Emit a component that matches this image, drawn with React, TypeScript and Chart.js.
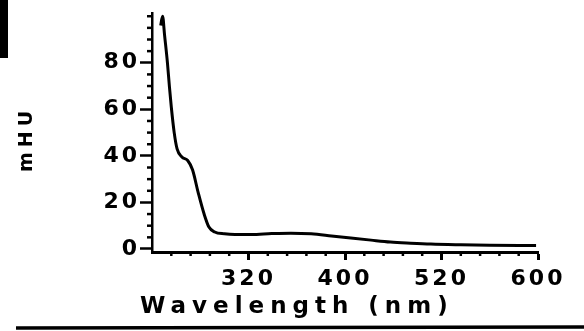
import React, { useEffect, useRef } from 'react';
import { Chart, registerables } from 'chart.js';

Chart.register(...registerables);

// Wavelength (nm) of each sampled point on the trace
const wavelengths = [209, 211, 213, 216, 218, 220, 223, 226, 231, 237, 242, 248, 254, 259, 265, 275, 286, 303, 324, 344, 365, 386, 406, 427, 447, 468, 489, 520, 550, 581, 598];
// Absorbance (mHU) at each wavelength
const absorbance = [96, 100, 92, 80, 70, 61, 50, 43, 39.5, 38, 34, 24, 15, 9.4, 7.3, 6.5, 6.2, 6.2, 6.6, 6.8, 6.5, 5.6, 4.7, 3.8, 3.0, 2.5, 2.1, 1.8, 1.6, 1.5, 1.5];

const xTickValues = [300, 400, 500, 600];
const xTickLabels = ['320', '400', '520', '600'];
const yTickValues = [0, 20, 40, 60, 80];
const yTickLabels = ['0', '20', '40', '60', '80'];
const xAxisTitle = 'Wavelength (nm)';
const yAxisTitle = 'mHU';

const FONT = 'DejaVu Sans';

const decorPlugin = {
  id: 'decor',
  beforeDraw(chart: any) {
    const ctx = chart.ctx;
    ctx.save();
    ctx.fillStyle = '#ffffff';
    ctx.fillRect(0, 0, chart.width, chart.height);
    ctx.restore();
    ctx.letterSpacing = '3px';
  },
  afterDraw(chart: any) {
    const ctx = chart.ctx;
    const xs = chart.scales.x;
    const ys = chart.scales.y;
    ctx.save();
    ctx.strokeStyle = '#000';
    ctx.lineWidth = 2.5;
    for (let v = 5; v <= 100; v += 5) {
      if (yTickValues.includes(v)) continue;
      const py = ys.getPixelForValue(v);
      ctx.beginPath();
      ctx.moveTo(xs.left - 5, py);
      ctx.lineTo(xs.left, py);
      ctx.stroke();
    }
    for (let v = 220; v < 600; v += 20) {
      if (xTickValues.includes(v)) continue;
      const px = xs.getPixelForValue(v);
      ctx.beginPath();
      ctx.moveTo(px, ys.bottom);
      ctx.lineTo(px, ys.bottom + 4);
      ctx.stroke();
    }

    // axis titles
    ctx.fillStyle = '#000';
    ctx.textBaseline = 'middle';
    ctx.textAlign = 'left';
    ctx.letterSpacing = '6px';
    ctx.font = `bold 23px "${FONT}"`;
    ctx.fillText(xAxisTitle, xs.left - 12, 307);

    ctx.save();
    ctx.translate(27, 141);
    ctx.rotate(-Math.PI / 2);
    ctx.textAlign = 'center';
    ctx.letterSpacing = '5px';
    ctx.font = `bold 19px "${FONT}"`;
    ctx.fillText(yAxisTitle, 2, 0);
    ctx.restore();

    // bottom rule of the scanned page
    ctx.lineWidth = 3.5;
    ctx.beginPath();
    ctx.moveTo(16, 328);
    ctx.lineTo(584, 327);
    ctx.stroke();
    // dark scan edge on the left
    ctx.fillStyle = '#000';
    ctx.fillRect(0, 0, 8, 58);
    ctx.restore();
  },
};

export default function App() {
  const ref = useRef<HTMLCanvasElement | null>(null);

  useEffect(() => {
    if (!ref.current) return;
    const chart = new Chart(ref.current, {
      type: 'line',
      data: {
        datasets: [
          {
            data: wavelengths.map((w, i) => ({ x: w, y: absorbance[i] })),
            borderColor: '#000',
            borderWidth: 3,
            pointRadius: 0,
            cubicInterpolationMode: 'monotone',
            fill: false,
          },
        ],
      },
      options: {
        animation: false,
        responsive: false,
        devicePixelRatio: 1,
        layout: { padding: { top: 12, right: 46, bottom: 0, left: 0 } },
        plugins: { legend: { display: false }, tooltip: { enabled: false }, title: { display: false } },
        scales: {
          x: {
            type: 'linear',
            min: 200,
            max: 600,
            afterBuildTicks: (s: any) => {
              s.ticks = xTickValues.map((v) => ({ value: v }));
            },
            afterFit: (s: any) => {
              s.height = 79;
            },
            ticks: {
              color: '#000',
              padding: 6,
              maxRotation: 0,
              font: { family: FONT, weight: 'bold', size: 22 },
              callback: (_v: any, i: number) => xTickLabels[i],
            },
            grid: { drawOnChartArea: false, tickLength: 8, tickWidth: 3, tickColor: '#000' },
            border: { display: true, color: '#000', width: 3 },
            title: { display: false },
          },
          y: {
            type: 'linear',
            min: -1.3,
            max: 101.3,
            afterBuildTicks: (s: any) => {
              s.ticks = yTickValues.map((v) => ({ value: v }));
            },
            afterFit: (s: any) => {
              s.width = 152;
            },
            ticks: {
              color: '#000',
              padding: 0,
              font: { family: FONT, weight: 'bold', size: 22 },
              callback: (_v: any, i: number) => yTickLabels[i],
            },
            grid: { drawOnChartArea: false, tickLength: 12, tickWidth: 2.5, tickColor: '#000' },
            border: { display: true, color: '#000', width: 2.5 },
            title: { display: false },
          },
        },
      },
      plugins: [decorPlugin],
    } as any);
    return () => chart.destroy();
  }, []);

  return (
    <div style={{ position: 'fixed', left: 0, top: 0, width: 584, height: 331, background: '#fff' }}>
      <canvas ref={ref} width={584} height={331} style={{ display: 'block' }} />
    </div>
  );
}
